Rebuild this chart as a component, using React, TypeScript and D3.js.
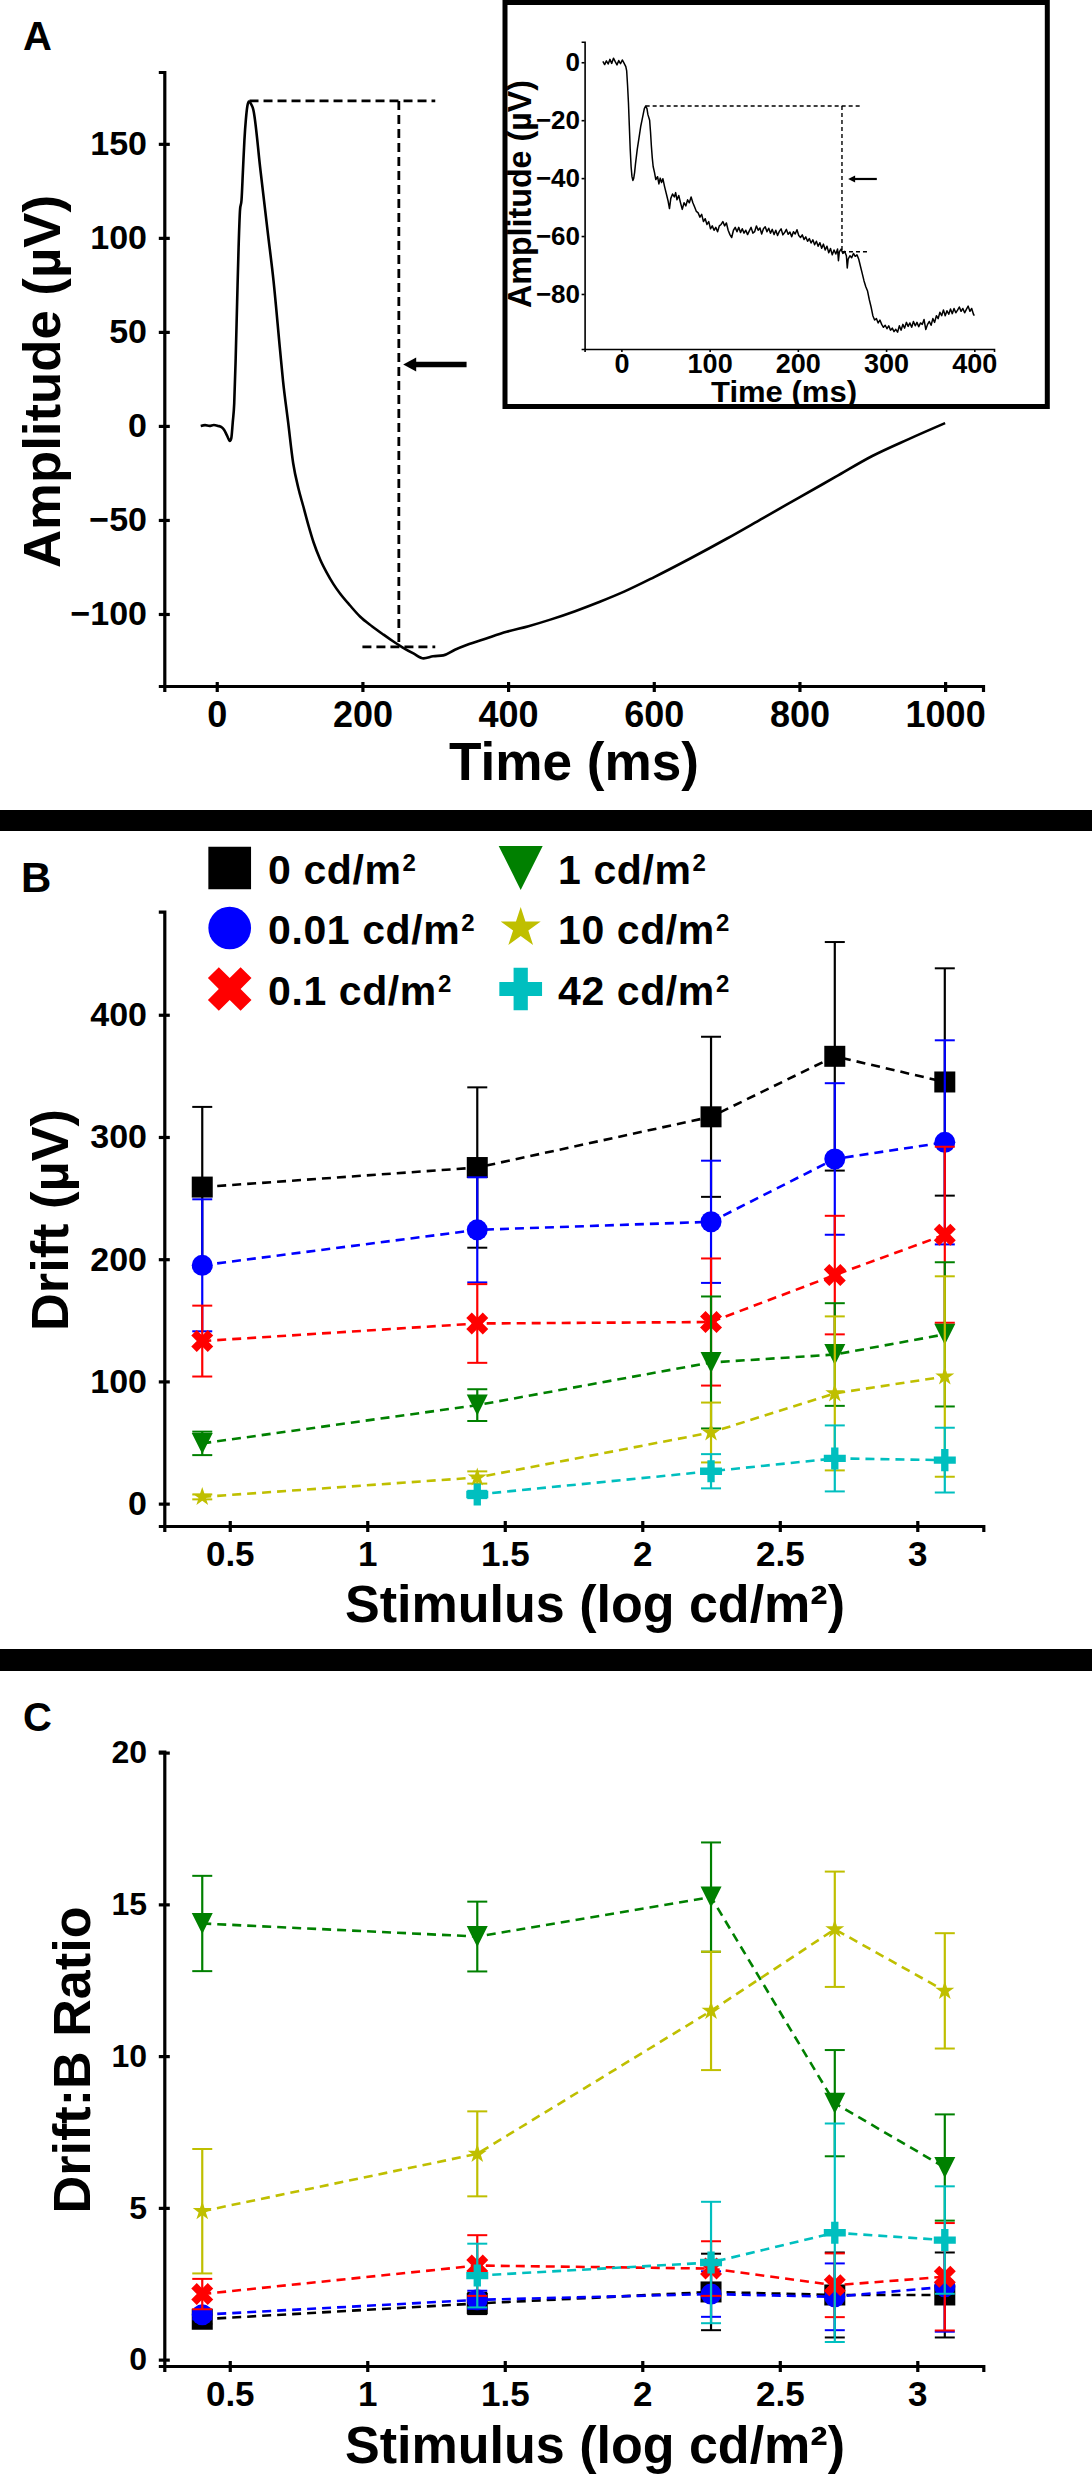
import React, { useRef, useEffect } from 'react';
import * as d3 from 'd3';

const FONT = '"Liberation Sans", Arial, Helvetica, sans-serif';
const W = 1092;
const H = 2479;

// ---- Panel A: full ERG trace [time (ms), amplitude (µV)]
const ergTrace: [number, number][] = [
  [-22, 0], [-16, 0.4], [-10, 0], [-4, 0.5], [2, 0], [6, -0.5], [10, -2], [14, -5], [18, -8], [20, -6.5],
  [22, 2], [24, 12], [26, 36], [28, 66], [30, 95], [32, 115], [34, 120], [36, 136], [38, 152], [40, 163],
  [42, 170], [44, 172.5], [46, 172], [48, 170.5], [50, 168.5], [60, 136], [70, 103], [78, 77], [87, 40],
  [91, 24], [98, 2], [105, -20], [112, -33], [119, -43], [126, -53], [133, -62], [142, -71], [151, -78],
  [160, -84], [169, -89], [183, -95.5], [197, -101.5], [213, -106.5], [229, -111], [242, -114.5],
  [256, -118], [270, -121], [284, -123.6], [297, -122.5], [311, -122], [327, -119], [343, -116.5],
  [370, -113], [398, -109.5], [428, -106.5], [458, -103], [492, -98.5], [526, -93.5], [560, -88],
  [600, -80.5], [650, -70.5], [700, -60], [750, -49], [800, -38], [850, -27], [900, -16], [950, -7], [1000, 1.5]
];
const aTimeTicks = [0, 200, 400, 600, 800, 1000];
const aAmpTicks = [-100, -50, 0, 50, 100, 150];
const aPeak = 172.8, aPeakT = 45, aTrough = -117.5, aDriftT = 250, aLineEnd = 300, aTroughStart = 200;
const aArrowAmp = 32.6, aArrowTip = 256, aArrowTail = 343;

// ---- Panel A inset: zoomed trace
const insetTrace: [number, number][] = [
  [-21, 0.3], [-19, -0.8], [-17, 0.5], [-15, -0.6], [-13, 1.0], [-11, -0.4], [-9, 1.4], [-7, 0.2], [-5, -0.9],
  [-3, 0.6], [-1, -0.5], [1, 0.8], [3, -0.3], [5, -1.5], [6, -3], [7, -8], [8, -14], [9, -22], [10, -30],
  [11, -36], [12, -39.5], [13, -40.8], [14, -40], [15, -38], [16, -35], [18, -30], [20, -26], [22, -22],
  [24, -19], [26, -16], [27.5, -15.1], [29, -16], [30, -18], [32, -20], [33, -24], [34, -29], [35, -33],
  [36, -36], [37.5, -38], [39, -40.5], [41, -39.5], [42.5, -42], [44, -40], [45.5, -41.5], [47, -40.2],
  [49, -43], [51, -45.5], [53, -48], [54.5, -50.5], [56, -47], [58, -45.5], [60, -46.5], [61.5, -45],
  [63, -47.5], [65, -46], [67, -48.5], [69, -50.8], [71, -48.5], [73, -49.6], [75, -47.5], [77, -48.5],
  [79, -46.5], [81, -48.5], [83, -50], [85, -51.5], [87, -52], [89, -53.5], [91, -52.5], [93, -55],
  [95, -54], [97, -56], [99, -55], [101, -57.5], [103, -56.5], [105, -58], [107, -57], [109, -58.5],
  [111, -56.5], [113, -56], [115, -55], [117, -56.5], [119, -55.5], [121, -58], [123, -59.5], [125, -60.5],
  [127, -58], [129, -57], [131, -58.5], [133, -57], [135, -58.8], [137, -57.5], [139, -59], [141, -58],
  [143, -59.5], [145, -58.2], [147, -57], [149, -59], [151, -58.5], [153, -56.5], [155, -58], [157, -57.2],
  [159, -59.3], [161, -57.5], [163, -56.8], [165, -58.5], [167, -57.3], [169, -59], [171, -57.7], [173, -59.5],
  [175, -58], [177, -59.8], [179, -58.4], [181, -57.5], [183, -59.6], [185, -58.8], [187, -57.7], [189, -59.4],
  [191, -58.6], [193, -60.2], [195, -58.5], [197, -59.3], [199, -57.8], [201, -59.8], [203, -60.5], [205, -59.6],
  [207, -61.2], [209, -60.3], [211, -61.8], [213, -60.9], [215, -62.4], [217, -61.3], [219, -63], [221, -61.8],
  [223, -63.5], [225, -62.3], [227, -64.2], [229, -62.8], [231, -64.8], [233, -63.5], [235, -65.8], [237, -64.3],
  [239, -66.5], [241, -64.8], [243, -66.2], [245, -64.5], [246, -68.5], [247, -65.5], [249, -64.5], [251, -66],
  [253, -65.3], [255, -66.8], [256, -71], [257, -68], [259, -66.8], [261, -67.5], [263, -66], [265, -67],
  [267, -66.5], [269, -68], [271, -70.5], [273, -73], [275, -75.5], [277, -77.5], [279, -79], [281, -82],
  [283, -84.5], [285, -87.5], [287, -89], [289, -88.5], [291, -90], [293, -89], [295, -90.5], [297, -91.5],
  [299, -90.8], [301, -92], [303, -91], [305, -92.5], [307, -91.8], [309, -93], [311, -92.2], [313, -93.2],
  [315, -91], [317, -92.5], [319, -90.5], [321, -91.8], [323, -89.8], [325, -91.2], [327, -90], [329, -91.5],
  [331, -89.5], [333, -91], [335, -89.8], [337, -91.3], [339, -90], [341, -90.5], [343, -88.8], [345, -92.3],
  [347, -90.5], [349, -89.5], [351, -90.8], [353, -88.5], [355, -89.8], [357, -87.5], [359, -88.5], [361, -86.3],
  [363, -87.5], [365, -85.5], [367, -87.5], [369, -85.8], [371, -87], [373, -85.2], [375, -86.8], [377, -85],
  [379, -86.5], [381, -85.6], [383, -84.5], [385, -86], [387, -85], [389, -86.5], [391, -85.3], [393, -84.2],
  [395, -86], [397, -85], [399, -87], [400, -87.5]
];
const iTimeTicks = [0, 100, 200, 300, 400];
const iAmpTicks = [0, -20, -40, -60, -80];
const iPeak = -15.1, iPeakT = 27.5, iLineEnd = 271, iTrough = -65.4, iTroughEnd = 281, iDriftT = 250;
const iArrowAmp = -40.3, iArrowTip = 257, iArrowTail = 289.5;

// ---- Panels B & C
const stimulus = [0.4, 1.4, 2.25, 2.7, 3.1];
const stimTicks = [0.5, 1, 1.5, 2, 2.5, 3];
const driftTicks = [0, 100, 200, 300, 400];
const ratioTicks = [0, 5, 10, 15, 20];

const labels = ['0 cd/m', '0.01 cd/m', '0.1 cd/m', '1 cd/m', '10 cd/m', '42 cd/m'];
const colors = ['#000000', '#0000ff', '#ff0000', '#008000', '#bfbf00', '#00bfbf'];
const markers = ['square', 'circle', 'x', 'triangle', 'star', 'plus'];

const drift0 = [259, 275, 316.5, 366, 345];
const drift0Err = [65.6, 65.6, 65.5, 93.5, 93];
const drift001 = [195, 224, 230.6, 282, 295.6];
const drift001Err = [54, 43, 50, 62, 83.5];
const drift01 = [133, 147.4, 148.6, 187, 220];
const drift01Err = [29, 32.2, 52, 48.5, 72];
const drift1 = [49.3, 80.6, 115.5, 122, 138.5];
const drift1Err = [9.6, 13, 54, 42, 59];
const drift10 = [5.5, 21.4, 58.2, 90.2, 104];
const drift10Err = [2, 5, 24.5, 63, 82];
const drift42 = [null, 7.5, 26.5, 37, 35.6];
const drift42Err = [null, 3, 14, 27, 26.5];

const ratio0 = [1.33, 1.85, 2.23, 2.13, 2.13];
const ratio0Err = [0.15, 0.35, 1.26, 1.4, 1.4];
const ratio001 = [1.48, 1.97, 2.16, 2.07, 2.4];
const ratio001Err = [0.15, 0.3, 0.75, 1.1, 1.48];
const ratio01 = [2.16, 3.1, 3.0, 2.45, 2.73];
const ratio01Err = [0.5, 1.0, 0.9, 1.05, 1.77];
const ratio1 = [14.37, 13.94, 15.24, 8.45, 6.33];
const ratio1Err = [1.57, 1.15, 1.8, 1.75, 1.75];
const ratio10 = [4.89, 6.78, 11.49, 14.18, 12.15];
const ratio10Err = [2.05, 1.4, 1.95, 1.9, 1.9];
const ratio42 = [null, 2.77, 3.2, 4.18, 3.94];
const ratio42Err = [null, 1.05, 2.0, 3.6, 1.77];

const driftSeries = [drift0, drift001, drift01, drift1, drift10, drift42];
const driftErrs = [drift0Err, drift001Err, drift01Err, drift1Err, drift10Err, drift42Err];
const ratioSeries = [ratio0, ratio001, ratio01, ratio1, ratio10, ratio42];
const ratioErrs = [ratio0Err, ratio001Err, ratio01Err, ratio1Err, ratio10Err, ratio42Err];

// downward triangle, square bounding box
const triDown = {
  draw(ctx: any, size: number) {
    const s = Math.sqrt(size);
    ctx.moveTo(-s / 2, -s / 2);
    ctx.lineTo(s / 2, -s / 2);
    ctx.lineTo(0, s / 2);
    ctx.closePath();
  }
};

function markerPath(kind: string, w: number) {
  if (kind === 'square') return d3.symbol(d3.symbolSquare, w * w)();
  if (kind === 'circle') return d3.symbol(d3.symbolCircle, Math.PI * (w / 2) ** 2)();
  if (kind === 'x') return d3.symbol(d3.symbolCross, 0.624 * w * w)();
  if (kind === 'triangle') return d3.symbol(triDown as any, w * w)();
  if (kind === 'star') return d3.symbol(d3.symbolStar, (w / 1.902) ** 2 / 0.8908)();
  return d3.symbol(d3.symbolCross, 0.556 * w * w)();
}
const plotSize: any = { square: 21, circle: 21, x: 22, triangle: 21, star: 19, plus: 22 };
const legendSize: any = { square: 42.7, circle: 42.7, x: 43.6, triangle: 44, star: 40, plus: 42.7 };

function styleAxis(g: any, fontSize: number, lineW: number, attr: string, inner: number) {
  g.attr('font-family', FONT).attr('font-size', fontSize).attr('font-weight', 'bold');
  g.select('.domain').attr('stroke', '#000').attr('stroke-width', lineW);
  g.selectAll('.tick line').attr('stroke', '#000').attr('stroke-width', lineW).attr(attr, inner);
  g.selectAll('.tick text').attr('fill', '#000');
}

function addText(svg: any, txt: string, x: number, y: number, size: number, len?: number, rotate?: boolean, anchor = 'middle') {
  const t = svg.append('text')
    .attr('x', rotate ? 0 : x).attr('y', rotate ? 0 : y)
    .attr('transform', rotate ? `translate(${x},${y}) rotate(-90)` : null)
    .attr('font-family', FONT).attr('font-weight', 'bold').attr('font-size', size)
    .attr('text-anchor', anchor).attr('fill', '#000')
    .text(txt);
  if (len) t.attr('textLength', len).attr('lengthAdjust', 'spacingAndGlyphs');
  return t;
}

function drawSeries(svg: any, x: any, y: any, means: any[], errs: any[]) {
  means.forEach((mean, k) => {
    const color = colors[k];
    const pts = stimulus.map((t, i) => ({ t, v: mean[i], e: errs[k][i] })).filter(p => p.v != null);
    const g = svg.append('g');
    g.selectAll('line.bar').data(pts).join('line')
      .attr('x1', (p: any) => x(p.t)).attr('x2', (p: any) => x(p.t))
      .attr('y1', (p: any) => y(p.v - p.e)).attr('y2', (p: any) => y(p.v + p.e))
      .attr('stroke', color).attr('stroke-width', 2.2);
    [-1, 1].forEach(sgn => {
      g.selectAll(null).data(pts).join('line')
        .attr('x1', (p: any) => x(p.t) - 10).attr('x2', (p: any) => x(p.t) + 10)
        .attr('y1', (p: any) => y(p.v + sgn * p.e)).attr('y2', (p: any) => y(p.v + sgn * p.e))
        .attr('stroke', color).attr('stroke-width', 2);
    });
    g.append('path').datum(pts)
      .attr('d', d3.line<any>().x(p => x(p.t)).y(p => y(p.v)))
      .attr('fill', 'none').attr('stroke', color).attr('stroke-width', 2.6)
      .attr('stroke-dasharray', '9,6');
    g.selectAll('path.mk').data(pts).join('path')
      .attr('d', markerPath(markers[k], plotSize[markers[k]]))
      .attr('transform', (p: any) => `translate(${x(p.t)},${y(p.v)})${markers[k] === 'x' ? ' rotate(45)' : ''}`)
      .attr('fill', color);
  });
}

function drawStimAxes(svg: any, x: any, y: any, yTicks: number[], yFont: number) {
  const gx = svg.append('g').attr('transform', `translate(0,${y.range()[0]})`)
    .call(d3.axisBottom(x).tickValues(stimTicks).tickSizeOuter(0).tickSize(6).tickPadding(9).tickFormat((d: any) => String(d)));
  styleAxis(gx, 35, 3.2, 'y1', -5);
  const gy = svg.append('g').attr('transform', `translate(${x.range()[0]},0)`)
    .call(d3.axisLeft(y).tickValues(yTicks).tickSizeOuter(0).tickSize(5.5).tickPadding(11.8).tickFormat((d: any) => String(d)));
  styleAxis(gy, yFont, 3.2, 'x1', 5.5);
}

const App = () => {
  const svgRef = useRef<SVGSVGElement>(null);

  useEffect(() => {
    const svg = d3.select(svgRef.current);
    svg.selectAll('*').remove();
    svg.append('rect').attr('width', W).attr('height', H).attr('fill', '#fff');

    // ================= Panel A =================
    const xA = d3.scaleLinear().domain([-72, 1052]).range([164.3, 983]);
    const yA = d3.scaleLinear().domain([-138.3, 188.2]).range([686, 72]);

    const gAx = svg.append('g').attr('transform', `translate(0,${yA.range()[0]})`)
      .call(d3.axisBottom(xA).tickValues(aTimeTicks).tickSizeOuter(0).tickSize(6).tickPadding(9)
        .tickFormat((d: any) => String(d)));
    styleAxis(gAx, 36, 3.2, 'y1', -4);
    const gAy = svg.append('g').attr('transform', `translate(${xA.range()[0]},0)`)
      .call(d3.axisLeft(yA).tickValues(aAmpTicks).tickSizeOuter(0).tickSize(5.5).tickPadding(11.8)
        .tickFormat((d: any) => (d < 0 ? '\u2212' + Math.abs(d) : String(d))));
    styleAxis(gAy, 34, 3.2, 'x1', 5.5);

    const dashA = { stroke: '#000', width: 2.8, dash: '9,5' };
    const dashLine = (x1: number, y1: number, x2: number, y2: number, d: any) =>
      svg.append('line').attr('x1', x1).attr('y1', y1).attr('x2', x2).attr('y2', y2)
        .attr('stroke', d.stroke).attr('stroke-width', d.width).attr('stroke-dasharray', d.dash);
    dashLine(xA(aPeakT), yA(aPeak), xA(aLineEnd), yA(aPeak), dashA);
    dashLine(xA(aDriftT), yA(aPeak), xA(aDriftT), yA(aTrough), dashA);
    dashLine(xA(aTroughStart), yA(aTrough), xA(aLineEnd), yA(aTrough), dashA);

    svg.append('path').datum(ergTrace)
      .attr('d', d3.line<[number, number]>().x(d => xA(d[0])).y(d => yA(d[1])).curve(d3.curveMonotoneX))
      .attr('fill', 'none').attr('stroke', '#000').attr('stroke-width', 2.6).attr('stroke-linejoin', 'round');

    // arrow
    const ax = xA(aArrowTip), ay = yA(aArrowAmp);
    svg.append('line').attr('x1', ax + 10).attr('x2', xA(aArrowTail)).attr('y1', ay).attr('y2', ay)
      .attr('stroke', '#000').attr('stroke-width', 5.5);
    svg.append('path').attr('d', `M${ax},${ay} L${ax + 13},${ay - 7} L${ax + 13},${ay + 7} Z`).attr('fill', '#000');

    addText(svg, 'Amplitude (\u00b5V)', 60, 381.5, 52, 373, true);
    addText(svg, 'Time (ms)', 574, 780, 53, 250);
    addText(svg, 'A', 23, 50, 40, undefined, false, 'start');

    // ---- inset
    svg.append('rect').attr('x', 505).attr('y', 2.5).attr('width', 542.3).attr('height', 404)
      .attr('fill', '#fff').attr('stroke', '#000').attr('stroke-width', 5);
    const xI = d3.scaleLinear().domain([-41.7, 422.3]).range([584.6, 994]);
    const yI = d3.scaleLinear().domain([-99, 7.1]).range([349, 41.7]);
    const gIx = svg.append('g').attr('transform', `translate(0,${yI.range()[0]})`)
      .call(d3.axisBottom(xI).tickValues(iTimeTicks).tickSizeOuter(0).tickSize(3).tickPadding(1.5));
    styleAxis(gIx, 27, 1.6, 'y1', 0);
    const gIy = svg.append('g').attr('transform', `translate(${xI.range()[0]},0)`)
      .call(d3.axisLeft(yI).tickValues(iAmpTicks).tickSizeOuter(0).tickSize(3).tickPadding(1.6));
    styleAxis(gIy, 26, 1.6, 'x1', 0);

    const dashI = { stroke: '#000', width: 1.4, dash: '4,3' };
    dashLine(xI(iPeakT), yI(iPeak), xI(iLineEnd), yI(iPeak), dashI);
    dashLine(xI(iDriftT), yI(iPeak), xI(iDriftT), yI(iTrough), dashI);
    dashLine(xI(iDriftT), yI(iTrough), xI(iTroughEnd), yI(iTrough), dashI);

    svg.append('path').datum(insetTrace)
      .attr('d', d3.line<[number, number]>().x(d => xI(d[0])).y(d => yI(d[1])))
      .attr('fill', 'none').attr('stroke', '#000').attr('stroke-width', 1.5).attr('stroke-linejoin', 'round');

    const ix = xI(iArrowTip), iy = yI(iArrowAmp);
    svg.append('line').attr('x1', ix + 5).attr('x2', xI(iArrowTail)).attr('y1', iy).attr('y2', iy)
      .attr('stroke', '#000').attr('stroke-width', 2.2);
    svg.append('path').attr('d', `M${ix},${iy} L${ix + 7},${iy - 3.5} L${ix + 7},${iy + 3.5} Z`).attr('fill', '#000');

    addText(svg, 'Amplitude (\u00b5V)', 531, 194, 34, 228, true);
    addText(svg, 'Time (ms)', 784, 401.5, 30, 146);

    // separators
    svg.append('rect').attr('x', 0).attr('y', 810).attr('width', W).attr('height', 21).attr('fill', '#000');
    svg.append('rect').attr('x', 0).attr('y', 1649).attr('width', W).attr('height', 22).attr('fill', '#000');

    // ================= Panel B =================
    const xB = d3.scaleLinear().domain([0.262, 3.24]).range([164.3, 983.3]);
    const yB = d3.scaleLinear().domain([-18.3, 484.4]).range([1526, 911.6]);
    drawStimAxes(svg, xB, yB, driftTicks, 34);
    drawSeries(svg, xB, yB, driftSeries, driftErrs);
    addText(svg, 'Drift (\u00b5V)', 68, 1220, 52, 222, true);
    addText(svg, 'Stimulus (log cd/m\u00b2)', 595, 1622, 51, 500);
    addText(svg, 'B', 21, 892, 42, undefined, false, 'start');

    // legend
    const legX = [229.7, 520.7];
    const legTextX = [268, 558];
    const legY = [868, 928, 989];
    labels.forEach((lab, k) => {
      const col = Math.floor(k / 3), row = k % 3;
      const kind = markers[k];
      svg.append('path')
        .attr('d', markerPath(kind, legendSize[kind]))
        .attr('transform', `translate(${legX[col]},${legY[row]})${kind === 'x' ? ' rotate(45)' : ''}`)
        .attr('fill', colors[k]);
      const t = addText(svg, lab, legTextX[col], legY[row] + 15.5, 41, undefined, false, 'start')
        .attr('letter-spacing', 0.6);
      t.append('tspan').attr('font-size', 24).attr('dy', -12.5).attr('dx', 1).text('2');
    });

    // ================= Panel C =================
    const xC = d3.scaleLinear().domain([0.262, 3.24]).range([164.3, 983.3]);
    const yC = d3.scaleLinear().domain([-0.21, 20.03]).range([2366, 1751.7]);
    drawStimAxes(svg, xC, yC, ratioTicks, 32);
    drawSeries(svg, xC, yC, ratioSeries, ratioErrs);
    addText(svg, 'Drift:B Ratio', 90, 2060, 51, 307, true);
    addText(svg, 'Stimulus (log cd/m\u00b2)', 595, 2463, 51, 500);
    addText(svg, 'C', 23, 1731, 40, undefined, false, 'start');
  }, []);

  return (
    <svg ref={svgRef} width={W} height={H}
      style={{ position: 'absolute', left: 0, top: 0, display: 'block' }} />
  );
};

export default App;
